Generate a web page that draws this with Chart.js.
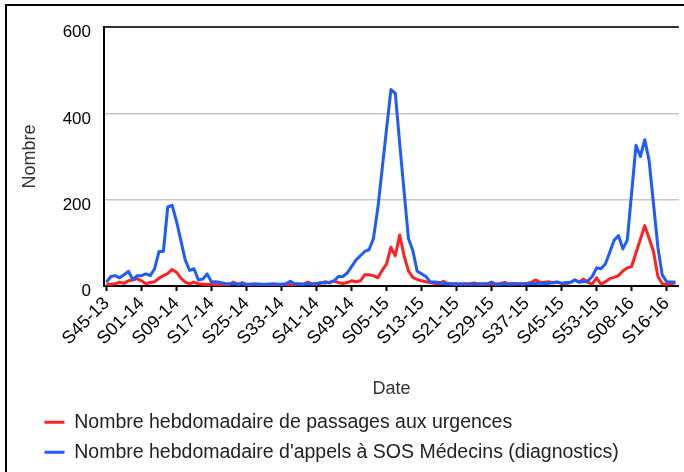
<!DOCTYPE html>
<html><head><meta charset="utf-8">
<script src="https://cdn.jsdelivr.net/npm/chart.js@4.4.1/dist/chart.umd.min.js"></script>
<style>
html,body{margin:0;padding:0;background:#fff;}
#wrap{position:relative;width:684px;height:472px;overflow:hidden;}
#frame{position:absolute;left:5px;top:4px;width:679px;height:468px;border-top:2px solid #000;border-left:2px solid #000;box-sizing:border-box;pointer-events:none;}
canvas{position:absolute;left:0;top:0;}
</style></head><body>
<div id="wrap"><canvas id="c" width="684" height="472"></canvas><div id="frame"></div></div>
<script>
// Weekly categories (S45-13 .. S18-16)
const weeks = [
 "S45-13","S46-13","S47-13","S48-13","S49-13","S50-13","S51-13","S52-13",
 "S01-14","S02-14","S03-14","S04-14","S05-14","S06-14","S07-14","S08-14","S09-14","S10-14","S11-14","S12-14","S13-14","S14-14","S15-14","S16-14","S17-14","S18-14","S19-14","S20-14","S21-14","S22-14","S23-14","S24-14","S25-14","S26-14","S27-14","S28-14","S29-14","S30-14","S31-14","S32-14","S33-14","S34-14","S35-14","S36-14","S37-14","S38-14","S39-14","S40-14","S41-14","S42-14","S43-14","S44-14","S45-14","S46-14","S47-14","S48-14","S49-14","S50-14","S51-14","S52-14",
 "S01-15","S02-15","S03-15","S04-15","S05-15","S06-15","S07-15","S08-15","S09-15","S10-15","S11-15","S12-15","S13-15","S14-15","S15-15","S16-15","S17-15","S18-15","S19-15","S20-15","S21-15","S22-15","S23-15","S24-15","S25-15","S26-15","S27-15","S28-15","S29-15","S30-15","S31-15","S32-15","S33-15","S34-15","S35-15","S36-15","S37-15","S38-15","S39-15","S40-15","S41-15","S42-15","S43-15","S44-15","S45-15","S46-15","S47-15","S48-15","S49-15","S50-15","S51-15","S52-15","S53-15",
 "S01-16","S02-16","S03-16","S04-16","S05-16","S06-16","S07-16","S08-16","S09-16","S10-16","S11-16","S12-16","S13-16","S14-16","S15-16","S16-16","S17-16","S18-16"
];
// Tick labels shown on the x axis
const tickLabels = ["S45-13","S01-14","S09-14","S17-14","S25-14","S33-14","S41-14","S49-14","S05-15","S13-15","S21-15","S29-15","S37-15","S45-15","S53-15","S08-16","S16-16"];
// Nombre hebdomadaire de passages aux urgences
const urgences = [
 4,4,5,9,6,12,14,17,12,5, 8,10,18,24,29,38,32,18,9,5,
 9,5,4,4,4,3,3,4,3,9, 4,8,3,4,3,4,3,4,3,4,
 3,4,3,4,5,4,9,5,4,6, 10,7,12,8,6,8,12,10,12,26,
 26,24,19,36,51,90,70,118,70,35, 20,15,12,10,8,6,5,11,5,4,
 4,5,4,5,7,4,5,4,5,4, 6,8,5,6,5,4,6,8,14,9,
 8,10,7,9,6,5,8,14,9,16, 8,5,19,4,10,17,20,24,35,42,
 45,77,108,140,110,80,22,5,4,5,8
];
// Nombre hebdomadaire d'appels à SOS Médecins (diagnostics)
const sosMedecins = [
 9,22,24,19,26,34,15,24,24,28, 24,40,80,80,183,187,150,105,60,36,
 40,14,16,28,9,10,8,6,5,5, 4,5,4,4,5,4,4,4,5,4,
 4,5,11,5,4,4,5,4,6,8, 7,9,12,22,22,30,45,60,70,80,
 84,110,180,272,364,455,446,330,220,110, 82,34,28,22,9,9,8,5,6,5,
 5,4,5,4,4,5,4,5,9,4, 4,5,4,4,5,5,5,6,5,7,
 6,6,8,9,6,8,8,14,9,10, 12,22,42,40,51,78,106,117,86,106,
 216,326,300,339,290,190,90,25,10,9,9
];
const yTicks = [0,200,400,600];

const tickIdx = tickLabels.map(l => weeks.indexOf(l));
const toPts = arr => arr.map((v,i) => ({x:i, y:v}));

Chart.defaults.font.family = '"Liberation Sans", Arial, sans-serif';

const legendShift = {
  id: 'legendShift',
  afterLayout(chart) { if (chart.legend) { chart.legend.left = 34; chart.legend.top += 2; } }
};

new Chart(document.getElementById('c'), {
  type: 'line',
  data: {
    datasets: [
      { label: 'Nombre hebdomadaire de passages aux urgences', data: toPts(urgences),
        borderColor: '#ff2222', backgroundColor: '#ff2222', borderWidth: 3, pointRadius: 0,
        tension: 0, fill: false, borderJoinStyle: 'round', order: 1 },
      { label: "Nombre hebdomadaire d'appels à SOS Médecins (diagnostics)", data: toPts(sosMedecins),
        borderColor: '#1f5cff', backgroundColor: '#1f5cff', borderWidth: 3, pointRadius: 0,
        tension: 0, fill: false, borderJoinStyle: 'round', order: 0 }
    ]
  },
  options: {
    responsive: false, animation: false, devicePixelRatio: 1,
    layout: { padding: { left: 8, top: 27, right: 4, bottom: 2 } },
    plugins: {
      tooltip: { enabled: false },
      legend: {
        position: 'bottom', align: 'start',
        labels: {
          usePointStyle: true, pointStyle: 'line', pointStyleWidth: 20,
          font: { size: 19.5 }, color: '#222', padding: 10.5,
          sort: (a, b) => a.datasetIndex - b.datasetIndex
        }
      }
    },
    scales: {
      x: {
        type: 'linear', min: -0.57, max: 130.8,
        afterBuildTicks: s => { s.ticks = tickIdx.map(v => ({ value: v })); },
        afterFit: s => { s.height = 114; },
        ticks: { autoSkip: false, minRotation: 45, maxRotation: 45, color: '#000', font: { size: 18 }, padding: 2,
          callback: v => weeks[v] },
        grid: { drawOnChartArea: false, drawTicks: true, tickLength: 5, tickColor: '#000', tickWidth: 2 },
        border: { display: true, color: '#000', width: 2 },
        title: { display: true, text: 'Date', color: '#333', font: { size: 18 }, padding: { top: 0, bottom: 0 } }
      },
      y: {
        min: 0, max: 600,
        afterBuildTicks: s => { s.ticks = yTicks.map(v => ({ value: v })); },
        afterFit: s => { s.width = 96; },
        ticks: { color: '#000', font: { size: 17 }, padding: 13, labelOffset: 5.5 },
        grid: {
          drawTicks: false,
          color: c => c.tick.value === 600 ? '#333' : (c.tick.value === 0 ? 'rgba(0,0,0,0)' : '#c6c6c6'),
          lineWidth: c => c.tick.value === 600 ? 2 : 1.5
        },
        border: { display: true, color: '#000', width: 2 },
        title: { display: true, text: 'Nombre', color: '#333', font: { size: 18 }, padding: { top: 11, bottom: 0 } }
      }
    }
  },
  plugins: [legendShift]
});
</script>
</body></html>
